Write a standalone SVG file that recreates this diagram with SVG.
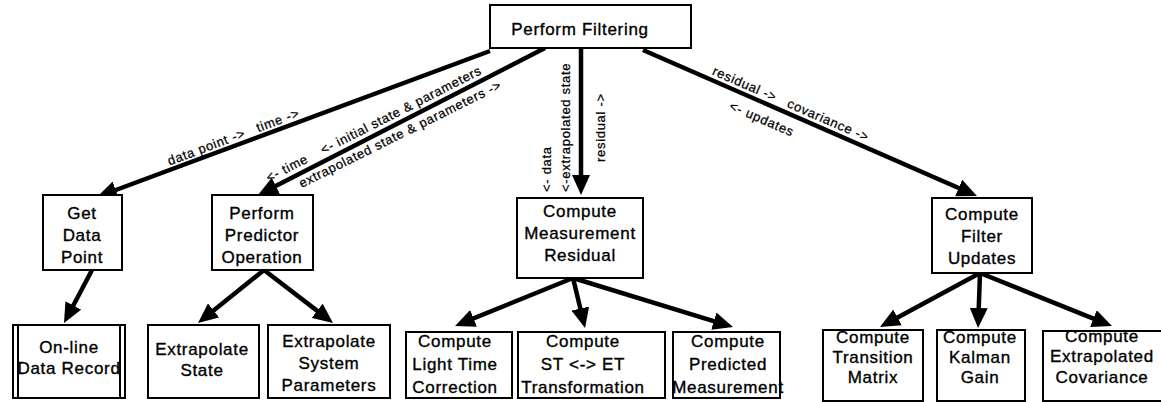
<svg xmlns="http://www.w3.org/2000/svg" width="1161" height="402" viewBox="0 0 1161 402">
<style>
.box{fill:#fff;stroke:#000;stroke-width:2}
.nt{font-family:"Liberation Sans",Arial,Helvetica,sans-serif;font-size:17px;letter-spacing:0.7px;text-anchor:middle;fill:#000;stroke:#000;stroke-width:0.35}
.lb{font-family:"Liberation Sans",Arial,Helvetica,sans-serif;font-size:13px;letter-spacing:0.7px;fill:#000;stroke:#000;stroke-width:0.25}
.ed{stroke:#000;stroke-width:4.5;fill:none;marker-end:url(#ah)}
</style>
<defs>
<marker id="ah" markerUnits="userSpaceOnUse" markerWidth="20" markerHeight="18" viewBox="0 0 20 18" refX="10" refY="9" orient="auto">
<path d="M0,0 L20,9 L0,18 z" fill="#000"/>
</marker>
</defs>
<rect width="1161" height="402" fill="#fff"/>
<g id="connectors">
<line class="ed" x1="490" y1="51" x2="106.4" y2="193.5"/>
<line class="ed" x1="545" y1="48" x2="266.9" y2="190.4"/>
<line class="ed" x1="581" y1="48" x2="581" y2="185"/>
<line class="ed" x1="643" y1="50" x2="967.8" y2="192"/>
<line class="ed" x1="92" y1="270" x2="68.7" y2="314.2"/>
<line class="ed" x1="264" y1="270" x2="205.8" y2="316.7"/>
<line class="ed" x1="264" y1="270" x2="325.1" y2="316.9"/>
<line class="ed" x1="573" y1="278" x2="464.3" y2="322.2"/>
<line class="ed" x1="573" y1="278" x2="582.7" y2="318.3"/>
<line class="ed" x1="573" y1="278" x2="723.4" y2="324.1"/>
<line class="ed" x1="980" y1="273" x2="888.8" y2="322.2"/>
<line class="ed" x1="980" y1="273" x2="978.4" y2="318"/>
<line class="ed" x1="980" y1="273" x2="1102.7" y2="322.3"/>
<text class="lb" xml:space="preserve" text-anchor="middle" transform="translate(235,141) rotate(-20.5)">data point ->   time -></text>
<text class="lb" text-anchor="middle" transform="translate(289,172) rotate(-27)">&lt;- time</text>
<text class="lb" text-anchor="middle" transform="translate(403,114) rotate(-27)">&lt;- initial state &amp; parameters</text>
<text class="lb" text-anchor="middle" transform="translate(402,138) rotate(-26.5)">extrapolated state &amp; parameters -></text>
<text class="lb" transform="translate(551,192) rotate(-90)">&lt;- data</text>
<text class="lb" transform="translate(570,192) rotate(-90)">&lt;-extrapolated state</text>
<text class="lb" transform="translate(605,162) rotate(-90)">residual -></text>
<text class="lb" xml:space="preserve" text-anchor="middle" transform="translate(789,108) rotate(23.5)">residual ->   covariance -></text>
<text class="lb" text-anchor="middle" transform="translate(760,123) rotate(23.5)">&lt;- updates</text>
</g>
<g id="n-perform-filtering">
<rect class="box" x="490" y="5" width="201" height="43"/>
<text class="nt" x="580" y="35">Perform Filtering</text>
</g>
<g id="n-get-data-point">
<rect class="box" x="43" y="195" width="79" height="75"/>
<text class="nt"><tspan x="82" y="219">Get</tspan><tspan x="82" y="241">Data</tspan><tspan x="82" y="263">Point</tspan></text>
</g>
<g id="n-perform-predictor">
<rect class="box" x="212" y="195" width="101" height="75"/>
<text class="nt"><tspan x="262" y="219">Perform</tspan><tspan x="262" y="241">Predictor</tspan><tspan x="262" y="263">Operation</tspan></text>
</g>
<g id="n-measurement-residual">
<rect class="box" x="517" y="198" width="126" height="80"/>
<text class="nt"><tspan x="580" y="217">Compute</tspan><tspan x="580" y="239">Measurement</tspan><tspan x="580" y="261">Residual</tspan></text>
</g>
<g id="n-filter-updates">
<rect class="box" x="932" y="198" width="100" height="75"/>
<text class="nt"><tspan x="982" y="220">Compute</tspan><tspan x="982" y="242">Filter</tspan><tspan x="982" y="264">Updates</tspan></text>
</g>
<g id="n-online-data-record">
<rect class="box" x="13" y="325" width="112" height="73"/>
<line x1="18" y1="325" x2="18" y2="398" stroke="#000" stroke-width="2"/>
<line x1="120" y1="325" x2="120" y2="398" stroke="#000" stroke-width="2"/>
<text class="nt"><tspan x="69" y="353">On-line</tspan><tspan x="69" y="374">Data Record</tspan></text>
</g>
<g id="n-extrapolate-state">
<rect class="box" x="148" y="325" width="111" height="73"/>
<text class="nt"><tspan x="202" y="355">Extrapolate</tspan><tspan x="202" y="376">State</tspan></text>
</g>
<g id="n-extrapolate-params">
<rect class="box" x="268" y="325" width="122" height="73"/>
<text class="nt"><tspan x="329" y="347">Extrapolate</tspan><tspan x="329" y="369">System</tspan><tspan x="329" y="391">Parameters</tspan></text>
</g>
<g id="n-light-time">
<rect class="box" x="406" y="332" width="106" height="66"/>
<text class="nt"><tspan x="455" y="347">Compute</tspan><tspan x="455" y="370">Light Time</tspan><tspan x="455" y="393">Correction</tspan></text>
</g>
<g id="n-st-et">
<rect class="box" x="518" y="332" width="147" height="66"/>
<text class="nt"><tspan x="583" y="347">Compute</tspan><tspan x="583" y="370">ST &lt;-&gt; ET</tspan><tspan x="583" y="393">Transformation</tspan></text>
</g>
<g id="n-predicted-measurement">
<rect class="box" x="673" y="332" width="107" height="66"/>
<text class="nt"><tspan x="728" y="347">Compute</tspan><tspan x="728" y="370">Predicted</tspan><tspan x="728" y="393">Measurement</tspan></text>
</g>
<g id="n-transition-matrix">
<rect class="box" x="823" y="330" width="100" height="71"/>
<text class="nt"><tspan x="873" y="343">Compute</tspan><tspan x="873" y="363">Transition</tspan><tspan x="873" y="383">Matrix</tspan></text>
</g>
<g id="n-kalman-gain">
<rect class="box" x="937" y="330" width="88" height="71"/>
<text class="nt"><tspan x="980" y="343">Compute</tspan><tspan x="980" y="363">Kalman</tspan><tspan x="980" y="383">Gain</tspan></text>
</g>
<g id="n-extrapolated-covariance">
<rect class="box" x="1043" y="331" width="122" height="70"/>
<text class="nt"><tspan x="1102" y="342">Compute</tspan><tspan x="1102" y="362">Extrapolated</tspan><tspan x="1102" y="383">Covariance</tspan></text>
</g>
</svg>
